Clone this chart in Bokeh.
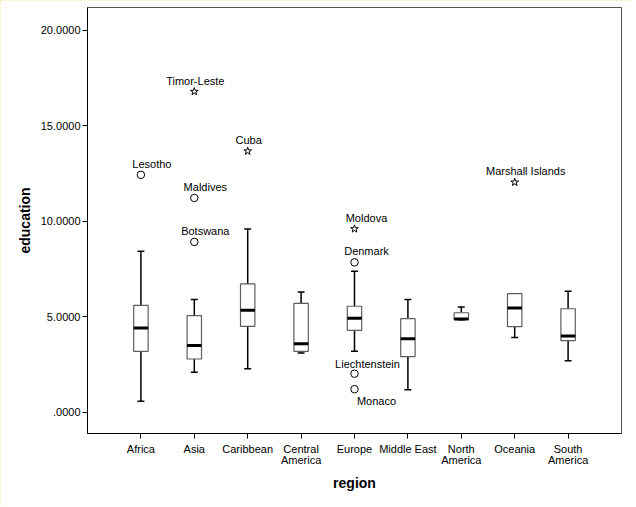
from bokeh.plotting import figure
from bokeh.models import ColumnDataSource, FixedTicker, Range1d
from bokeh.core.properties import value
from bokeh.embed import file_html
from bokeh.resources import INLINE

# ---------------- data ----------------
regions = ["Africa", "Asia", "Caribbean", "Central America", "Europe",
           "Middle East", "North America", "Oceania", "South America"]
region_tick_labels = ["Africa", "Asia", "Caribbean", "Central\nAmerica", "Europe",
                      "Middle East", "North\nAmerica", "Oceania", "South\nAmerica"]
q1 = [3.20, 2.80, 4.51, 3.20, 4.30, 2.92, 4.87, 4.49, 3.76]
median = [4.42, 3.51, 5.35, 3.60, 4.93, 3.86, 4.90, 5.47, 4.00]
q3 = [5.61, 5.07, 6.73, 5.71, 5.56, 4.91, 5.22, 6.22, 5.43]
whisker_low = [0.59, 2.10, 2.29, 3.12, 3.20, 1.19, 4.85, 3.92, 2.71]
whisker_high = [8.44, 5.91, 9.61, 6.31, 7.39, 5.91, 5.52, 6.22, 6.34]

outlier_names = ["Lesotho", "Maldives", "Botswana", "Timor-Leste", "Cuba",
                 "Moldova", "Denmark", "Liechtenstein", "Monaco", "Marshall Islands"]
outlier_regions = ["Africa", "Asia", "Asia", "Asia", "Caribbean",
                   "Europe", "Europe", "Europe", "Europe", "Oceania"]
outlier_values = [12.44, 11.23, 8.93, 16.80, 13.68, 9.61, 7.86, 2.03, 1.22, 12.05]
outlier_extreme = [False, False, False, True, True, True, False, False, False, True]

y_ticks = [0, 5, 10, 15, 20]
y_tick_labels = [".0000", "5.0000", "10.0000", "15.0000", "20.0000"]

# ---------------- styling (label placement in screen pixels) ----------------
label_dx = [11, 11, 11, 1, 1, 12, 12, 13, 22, 11]
label_dy = [-11, -11, -11, -11, -11, -11, -11, -10, 12, -11]

FONT = "Liberation Sans"

xpos = [i + 1 for i in range(len(regions))]
box_half = 0.135
cap_half = 0.065

p = figure(width=630, height=505, output_backend="svg", toolbar_location=None,
           x_range=Range1d(0, 10), y_range=Range1d(-1.1, 21.2),
           min_border_left=87, min_border_right=9, min_border_top=7,
           min_border_bottom=72)
p.styles = {"outline": "2px dotted #FFE38A", "outline-offset": "-2px"}

p.grid.visible = False
p.outline_line_color = "#555555"
p.background_fill_color = "white"
p.border_fill_color = "white"

box_src = ColumnDataSource(dict(
    x=xpos, q1=q1, med=median, q3=q3, lo=whisker_low, hi=whisker_high,
    left=[x - box_half for x in xpos], right=[x + box_half for x in xpos],
    cl=[x - cap_half for x in xpos], cr=[x + cap_half for x in xpos],
))

# whiskers
p.segment(x0="x", y0="q3", x1="x", y1="hi", source=box_src, line_color="black", line_width=1.5)
p.segment(x0="x", y0="lo", x1="x", y1="q1", source=box_src, line_color="black", line_width=1.5)
p.segment(x0="cl", y0="hi", x1="cr", y1="hi", source=box_src, line_color="black", line_width=1.5)
p.segment(x0="cl", y0="lo", x1="cr", y1="lo", source=box_src, line_color="black", line_width=1.5)
# boxes
p.quad(left="left", right="right", bottom="q1", top="q3", source=box_src,
       fill_color="white", line_color="#5e5e5e", line_width=1.2)
# medians
p.segment(x0="left", y0="med", x1="right", y1="med", source=box_src,
          line_color="black", line_width=3)

# outliers
ox = [regions.index(r) + 1 for r in outlier_regions]
circ = ColumnDataSource(dict(
    x=[x for x, e in zip(ox, outlier_extreme) if not e],
    y=[v for v, e in zip(outlier_values, outlier_extreme) if not e]))
star = ColumnDataSource(dict(
    x=[x for x, e in zip(ox, outlier_extreme) if e],
    y=[v for v, e in zip(outlier_values, outlier_extreme) if e]))
p.scatter("x", "y", source=circ, marker="circle", size=7.5, fill_color="white",
          line_color="black", line_width=1)
p.scatter("x", "y", source=star, marker="star", size=8, fill_color="white",
          line_color="black", line_width=1)

lab = ColumnDataSource(dict(x=ox, y=outlier_values, t=outlier_names,
                            dx=label_dx, dy=label_dy))
p.text("x", "y", text="t", source=lab, x_offset="dx", y_offset="dy",
       text_align="center", text_baseline="middle",
       text_font=value(FONT), text_font_size="11px", text_color="black")

# axes
p.xaxis.ticker = FixedTicker(ticks=xpos)
p.xaxis.major_label_overrides = {x: l for x, l in zip(xpos, region_tick_labels)}
p.yaxis.ticker = FixedTicker(ticks=y_ticks)
p.yaxis.major_label_overrides = {t: l for t, l in zip(y_ticks, y_tick_labels)}
for ax in (p.xaxis[0], p.yaxis[0]):
    ax.minor_tick_line_color = None
    ax.major_tick_in = 0
    ax.major_tick_out = 5
    ax.major_tick_line_color = "black"
    ax.axis_line_color = "black"
    ax.major_label_text_font = FONT
    ax.major_label_text_font_size = "11px"
    ax.major_label_text_color = "black"
    ax.major_label_text_line_height = 0.95
    ax.axis_label_text_font = FONT
    ax.axis_label_text_font_size = "14px"
    ax.axis_label_text_font_style = "bold"
    ax.axis_label_text_color = "black"
p.xaxis.axis_label = "region"
p.yaxis.axis_label = "education"
p.xaxis.major_label_standoff = 4
p.yaxis.major_label_standoff = 2
p.xaxis.axis_label_standoff = 6
p.yaxis.axis_label_standoff = 5

open("out.html", "w").write(file_html(p, INLINE))
